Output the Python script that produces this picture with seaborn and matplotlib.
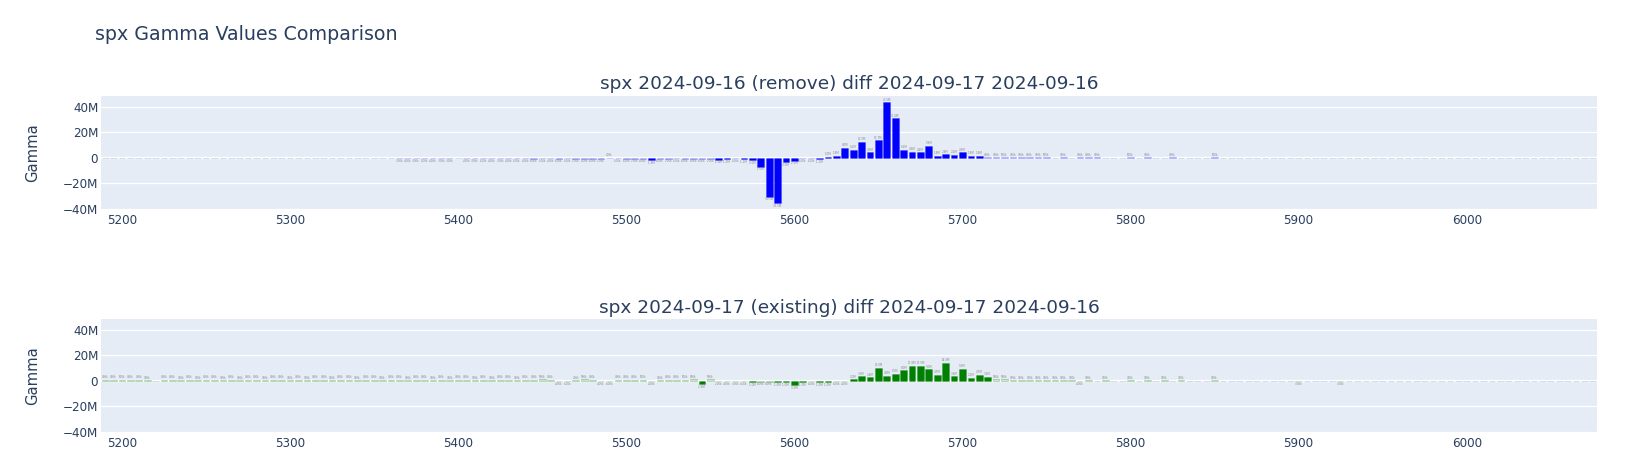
import numpy as np
import pandas as pd
import matplotlib
matplotlib.use("Agg")
import matplotlib.pyplot as plt
import seaborn as sns
from matplotlib.colors import to_rgba
from matplotlib.ticker import FuncFormatter, FixedLocator

# ---------------- data ----------------
strikes = list(range(5190, 6080, 5))  # strike grid (5190 ... 6075)

# gamma values in millions, one per strike (rows of 10 strikes)
remove_gamma_m = [
    0, 0, 0, 0, 0, 0, 0, 0, 0, 0,                                   # 5190-5235
    0, 0, 0, 0, 0, 0, 0, 0, 0, 0,                                   # 5240-5285
    0, 0, 0, 0, 0, 0, 0, 0, 0, 0,                                   # 5290-5335
    0, 0, 0, 0, 0, -0.3, -0.4, -0.3, -0.5, -0.4,                    # 5340-5385
    -0.3, -0.3, 0, -0.4, -0.3, -0.5, -0.4, -0.3, -0.4, -0.5,        # 5390-5435
    -0.4, -0.6, -0.5, -0.4, -0.6, -0.5, -0.7, -0.6, -0.8, -0.7,     # 5440-5485
    0.2, -0.5, -0.6, -0.7, -0.8, -1.8, -0.6, -0.7, -0.5, -0.6,      # 5490-5535
    -0.8, -0.8, -0.7, -1.6, -1.0, -0.5, -1.2, -2.0, -7.0, -30.5,    # 5540-5585
    -35.5, -3.5, -2.2, -0.5, -0.5, -1.2, 1.0, 1.8, 8.0, 6.2,        # 5590-5635
    12.5, 4.3, 13.7, 43.5, 31.0, 6.2, 4.6, 4.4, 9.3, 1.8,           # 5640-5685
    2.8, 2.2, 4.3, 1.8, 1.8, 0.4, 0.3, 0.5, 0.4, 0.3,               # 5690-5735
    0.4, 0.3, 0.5, 0, 0.3, 0, 0.3, 0.4, 0.3, 0,                     # 5740-5785
    0, 0, 0.5, 0, 0.3, 0, 0, 0.4, 0, 0,                             # 5790-5835
    0, 0, 0.5, 0, 0, 0, 0, 0, 0, 0,                                 # 5840-5885
    0, 0, 0, 0, 0, 0, 0, 0, 0, 0,                                   # 5890-5935
    0, 0, 0, 0, 0, 0, 0, 0, 0, 0,                                   # 5940-5985
    0, 0, 0, 0, 0, 0, 0, 0, 0, 0,                                   # 5990-6035
    0, 0, 0, 0, 0, 0, 0, 0,                                         # 6040-6075
]

existing_gamma_m = [
    0.4, 0.4, 0.5, 0.4, 0.4, 0.3, 0, 0.4, 0.4, 0.3,                 # 5190-5235
    0.4, 0.3, 0.4, 0.4, 0.3, 0.4, 0.3, 0.4, 0.4, 0.3,               # 5240-5285
    0.4, 0.4, 0.3, 0.4, 0.3, 0.4, 0.4, 0.3, 0.4, 0.4,               # 5290-5335
    0.3, 0.4, 0.4, 0.3, 0.4, 0.4, 0.3, 0.4, 0.4, 0.3,               # 5340-5385
    0.4, 0.3, 0.4, 0.4, 0.3, 0.4, 0.3, 0.4, 0.4, 0.3,               # 5390-5435
    0.4, 0.4, 0.9, 0.4, -0.4, -0.5, 0.2, 0.9, 0.4, -0.4,            # 5440-5485
    -0.6, 0.4, 0.4, 0.4, 0.5, -0.4, 0.3, 0.4, 0.4, 0.5,             # 5490-5535
    0.9, -2.6, 0.9, -0.2, -0.4, -0.3, -0.5, -1.0, -0.8, -0.8,       # 5540-5585
    -1.0, -1.0, -3.5, -1.0, -0.6, -1.0, -1.0, -0.6, -0.4, 1.0,      # 5590-5635
    3.5, 2.6, 10.0, 4.0, 5.5, 8.0, 11.8, 11.5, 9.0, 4.7,            # 5640-5685
    14.0, 3.4, 9.5, 2.1, 4.7, 3.2, 0.9, 0.9, 0.3, 0.3,              # 5690-5735
    0.3, 0.3, 0.3, 0.3, 0.3, 0.3, -0.4, 0.3, 0, 0.3,                # 5740-5785
    0, 0, 0.3, 0, 0.3, 0, 0.3, 0, 0.3, 0,                           # 5790-5835
    0, 0, 0.3, 0, 0, 0, 0, 0, 0, 0,                                 # 5840-5885
    0, 0, -0.3, 0, 0, 0, 0, -0.3, 0, 0,                             # 5890-5935
    0, 0, 0, 0, 0, 0, 0, 0, 0, 0,                                   # 5940-5985
    0, 0, 0, 0, 0, 0, 0, 0, 0, 0,                                   # 5990-6035
    0, 0, 0, 0, 0, 0, 0, 0,                                         # 6040-6075
]

main_title = "spx Gamma Values Comparison"
subtitles = [
    "spx 2024-09-16 (remove) diff 2024-09-17 2024-09-16",
    "spx 2024-09-17 (existing) diff 2024-09-17 2024-09-16",
]
y_label = "Gamma"
x_ticks = [5200, 5300, 5400, 5500, 5600, 5700, 5800, 5900, 6000]
y_ticks = [-40, -20, 0, 20, 40]

# ---------------- style ----------------
sns.set_theme(style="white")
plt.rcParams["font.family"] = ["DejaVu Sans"]

TXT = "#2a3f5f"
BG = "#E5ECF6"
W, H = 1637, 468

fig = plt.figure(figsize=(W / 100, H / 100), dpi=100)


def rect(l, t, r, b):
    return [l / W, 1 - b / H, (r - l) / W, (b - t) / H]


ax1 = fig.add_axes(rect(101, 96, 1597, 208.7))
ax2 = fig.add_axes(rect(101, 319, 1597, 431.7))


def fmt_label(v):
    if abs(v) >= 1:
        return f"{v:.1f}M"
    return f"{v * 1000:.0f}k"


def ytick_fmt(v, pos):
    if abs(v) < 1e-9:
        return "0"
    s = f"{int(round(v))}M"
    return s.replace("-", "\u2212")


def draw(ax, vals, color, top_lim):
    df = pd.DataFrame({"strike": strikes, "gamma": vals})
    sns.barplot(data=df, x="strike", y="gamma", native_scale=True,
                color=color, saturation=1, width=0.8, errorbar=None,
                ax=ax, linewidth=0.7, edgecolor=to_rgba(color, 0.25))
    lookup = dict(zip(strikes, vals))
    for p in ax.patches:
        xc = p.get_x() + p.get_width() / 2
        s = int(round(xc / 5.0) * 5)
        v = lookup.get(s, 0)
        a = 1.0 if abs(v) >= 1.0 else 0.2
        p.set_facecolor(to_rgba(color, a))
        p.set_edgecolor(to_rgba(color, 0.22) if v != 0 else (0.82, 0.85, 0.92, 1))
        p.set_zorder(2)
        if v != 0:
            off = 0.5 if v > 0 else -0.5
            ax.text(xc, v + off, fmt_label(v), ha="center",
                    va="bottom" if v > 0 else "top", fontsize=2,
                    color="#8a8a8a", zorder=3)

    ax.set_facecolor(BG)
    for sp in ax.spines.values():
        sp.set_visible(False)
    ax.set_xlim(5187.5, 6077.5)
    ax.set_ylim(-40, top_lim)
    ax.xaxis.set_major_locator(FixedLocator(x_ticks))
    ax.yaxis.set_major_locator(FixedLocator(y_ticks))
    ax.yaxis.set_major_formatter(FuncFormatter(ytick_fmt))
    ax.set_xticklabels([str(t) for t in x_ticks])
    ax.set_axisbelow(True)
    ax.grid(False)
    ax.yaxis.grid(True, color="white", linewidth=0.9, zorder=0)
    ax.axhline(0, color="white", linewidth=1.6, zorder=1)
    ax.tick_params(axis="both", length=0, labelsize=8.64, colors=TXT)
    ax.tick_params(axis="y", pad=2)
    ax.tick_params(axis="x", pad=4)
    ax.set_xlabel("")
    ax.set_ylabel("")


draw(ax1, remove_gamma_m, "#0000ff", 48.6)
draw(ax2, existing_gamma_m, "#008000", 48.3)

fig.text(95 / W, 1 - 34 / H, main_title, fontsize=13.7, color=TXT,
         ha="left", va="center")
fig.text(849 / W, 1 - 84 / H, subtitles[0], fontsize=13.3, color=TXT,
         ha="center", va="center")
fig.text(849 / W, 1 - 308 / H, subtitles[1], fontsize=13.3, color=TXT,
         ha="center", va="center")
fig.text(32.5 / W, 1 - 152.5 / H, y_label, rotation=90, fontsize=10.6,
         color=TXT, ha="center", va="center")
fig.text(32.5 / W, 1 - 375.5 / H, y_label, rotation=90, fontsize=10.6,
         color=TXT, ha="center", va="center")

fig.savefig("out.png", dpi=100, facecolor="white")
